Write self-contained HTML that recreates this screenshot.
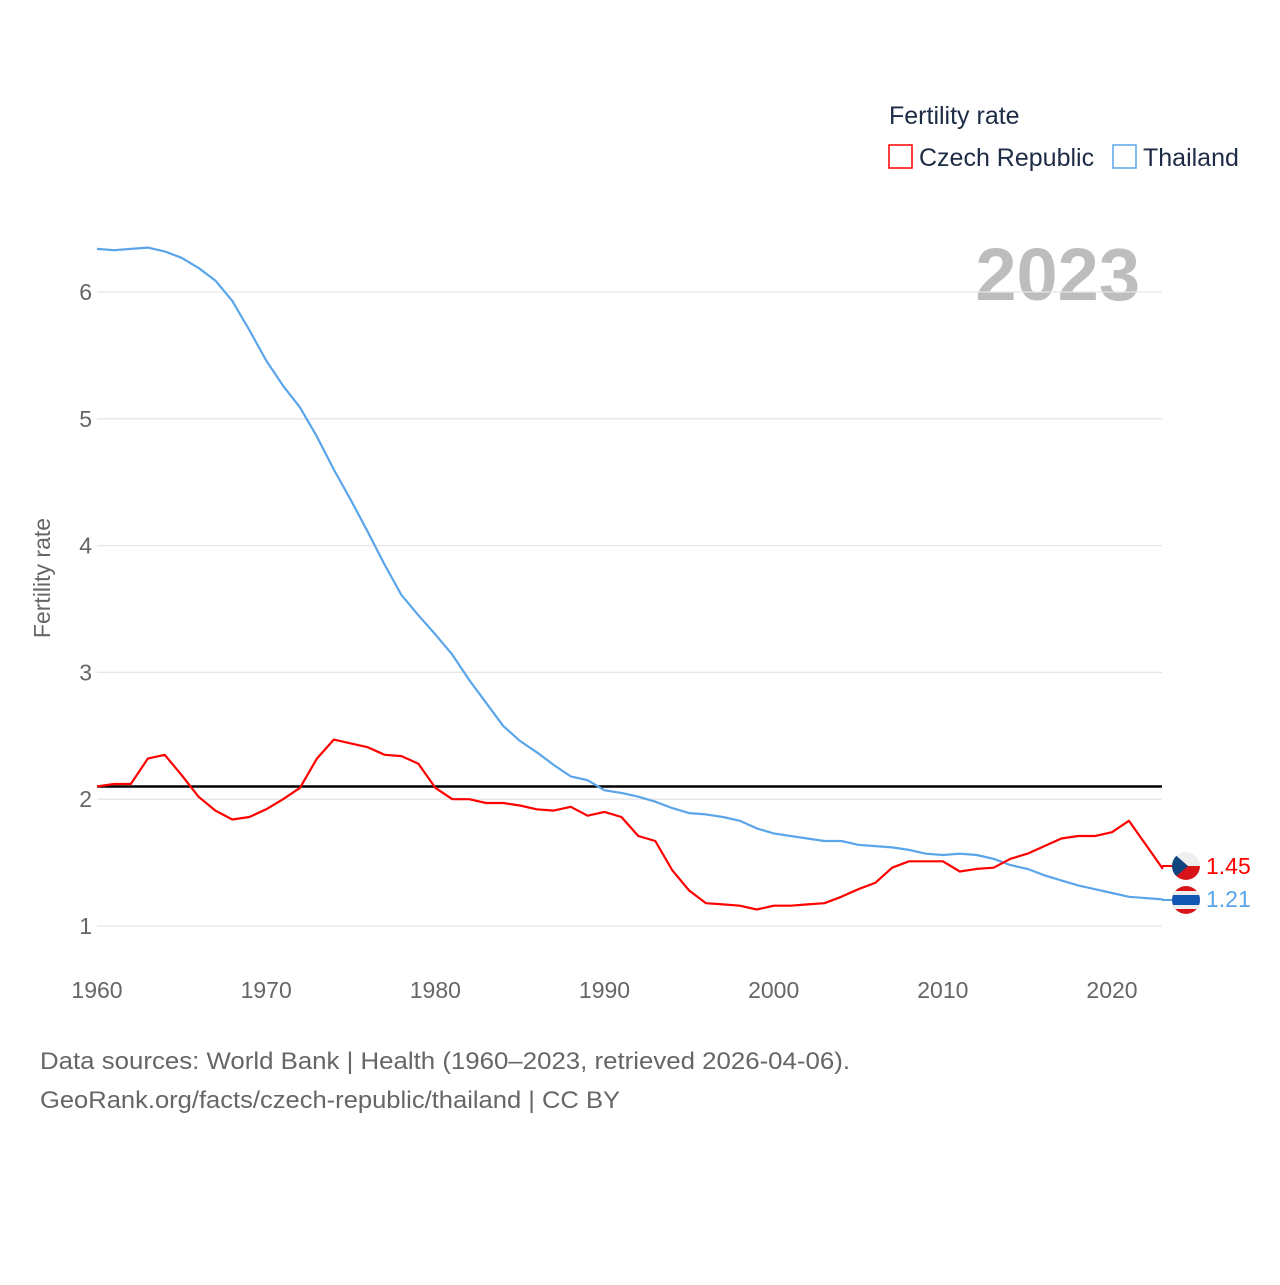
<!DOCTYPE html>
<html><head><meta charset="utf-8"><style>
body{margin:0;background:#fff;}
svg text{font-family:"Liberation Sans",sans-serif;}
</style></head><body>
<svg id="chart" width="1280" height="1280" viewBox="0 0 1280 1280" xmlns="http://www.w3.org/2000/svg">
<rect width="1280" height="1280" fill="#fff"/>
<text x="889" y="124" font-size="25" fill="#1d2b45">Fertility rate</text>
<g><rect x="889" y="145" width="23" height="23" fill="none" stroke="#f00" stroke-width="1.5"/><text x="919" y="166" font-size="25" fill="#1d2b45">Czech Republic</text></g>
<g><rect x="1113" y="145" width="23" height="23" fill="none" stroke="#5aa5ea" stroke-width="1.5"/><text x="1143" y="166" font-size="25" fill="#1d2b45">Thailand</text></g>
<text x="1140" y="300" font-size="74" font-weight="bold" fill="#bdbdbd" text-anchor="end">2023</text>
<g id="grid"></g><g id="yticks"></g><g id="xticks"></g>
<text transform="translate(50,578) rotate(-90)" font-size="23" fill="#666" text-anchor="middle">Fertility rate</text>
<line x1="97" x2="1162" y1="786.5" y2="786.5" stroke="#000" stroke-width="2.5"/>
<g id="series"></g>
<line x1="1162" x2="1174" y1="866" y2="866" stroke="#f00" stroke-width="2"/>
<line x1="1162" x2="1174" y1="900" y2="900" stroke="#5aa5ea" stroke-width="2"/>
<g>
<clipPath id="c1"><circle cx="1186" cy="866" r="14"/></clipPath>
<g clip-path="url(#c1)"><rect x="1172" y="852" width="28" height="14" fill="#eee"/><rect x="1172" y="866" width="28" height="14" fill="#d7141a"/><path d="M1172 852 L1188 866 L1172 880Z" fill="#11457e"/></g></g>
<g>
<clipPath id="c2"><circle cx="1186" cy="900" r="14"/></clipPath>
<g clip-path="url(#c2)"><rect x="1172" y="886" width="28" height="28" fill="#d7141a"/><rect x="1172" y="891" width="28" height="18" fill="#eee"/><rect x="1172" y="895" width="28" height="10" fill="#1357b5"/></g></g>
<text x="1206" y="874" font-size="23" fill="#f00">1.45</text>
<text x="1206" y="907" font-size="23" fill="#5aa5ea">1.21</text>
<text x="40" y="1069" font-size="24" fill="#666" textLength="810" lengthAdjust="spacingAndGlyphs">Data sources: World Bank | Health (1960–2023, retrieved 2026-04-06).</text>
<text x="40" y="1108" font-size="24" fill="#666" textLength="580" lengthAdjust="spacingAndGlyphs">GeoRank.org/facts/czech-republic/thailand | CC BY</text>
</svg>
<script>
const startYear = 1960;
const xTicks = [1960,1970,1980,1990,2000,2010,2020];
const yTicks = [1,2,3,4,5,6];
const czech = [2.10,2.12,2.12,2.32,2.35,2.19,2.02,1.91,1.84,1.86,1.92,2.00,2.09,2.32,2.47,2.44,2.41,2.35,2.34,2.28,2.09,2.00,2.00,1.97,1.97,1.95,1.92,1.91,1.94,1.87,1.90,1.86,1.71,1.67,1.44,1.28,1.18,1.17,1.16,1.13,1.16,1.16,1.17,1.18,1.23,1.29,1.34,1.46,1.51,1.51,1.51,1.43,1.45,1.46,1.53,1.57,1.63,1.69,1.71,1.71,1.74,1.83,1.64,1.45];
const thailand = [6.34,6.33,6.34,6.35,6.32,6.27,6.19,6.09,5.93,5.70,5.46,5.26,5.09,4.86,4.60,4.36,4.11,3.85,3.61,3.45,3.30,3.14,2.94,2.76,2.58,2.46,2.37,2.27,2.18,2.15,2.07,2.05,2.02,1.98,1.93,1.89,1.88,1.86,1.83,1.77,1.73,1.71,1.69,1.67,1.67,1.64,1.63,1.62,1.60,1.57,1.56,1.57,1.56,1.53,1.48,1.45,1.40,1.36,1.32,1.29,1.26,1.23,1.22,1.21];
const NS='http://www.w3.org/2000/svg';
const xs = y => 97 + (y-1960)*16.917;
const ys = v => 292 + (6-v)*126.8;
function mk(t,a,p){const e=document.createElementNS(NS,t);for(const k in a)e.setAttribute(k,a[k]);document.getElementById(p).appendChild(e);return e;}
yTicks.forEach(v=>{
 const g=mk('line',{x1:97,x2:1162,y1:ys(v),y2:ys(v),stroke:'#e6e6e6','stroke-width':1.3},'grid');
 
 
 const t=mk('text',{x:92,y:ys(v)+8,'font-size':23,fill:'#666','text-anchor':'end'},'yticks');
 t.textContent=v;
 
 
});
xTicks.forEach(y=>{
 const t=mk('text',{x:xs(y),y:998,'font-size':23,fill:'#666','text-anchor':'middle'},'xticks');
 t.textContent=y;
 
 
});
function line(arr,color,name){
 const d=arr.map((v,i)=>(i?'L':'M')+xs(startYear+i).toFixed(1)+' '+ys(v).toFixed(1)).join(' ');
 const p=mk('path',{d:d,fill:'none',stroke:color,'stroke-width':2.2,'stroke-linejoin':'round'},'series');
 
 
}
line(thailand,'#5aa5ea','thailand-line');
line(czech,'#f00','czech-line');
</script>
</body></html>
